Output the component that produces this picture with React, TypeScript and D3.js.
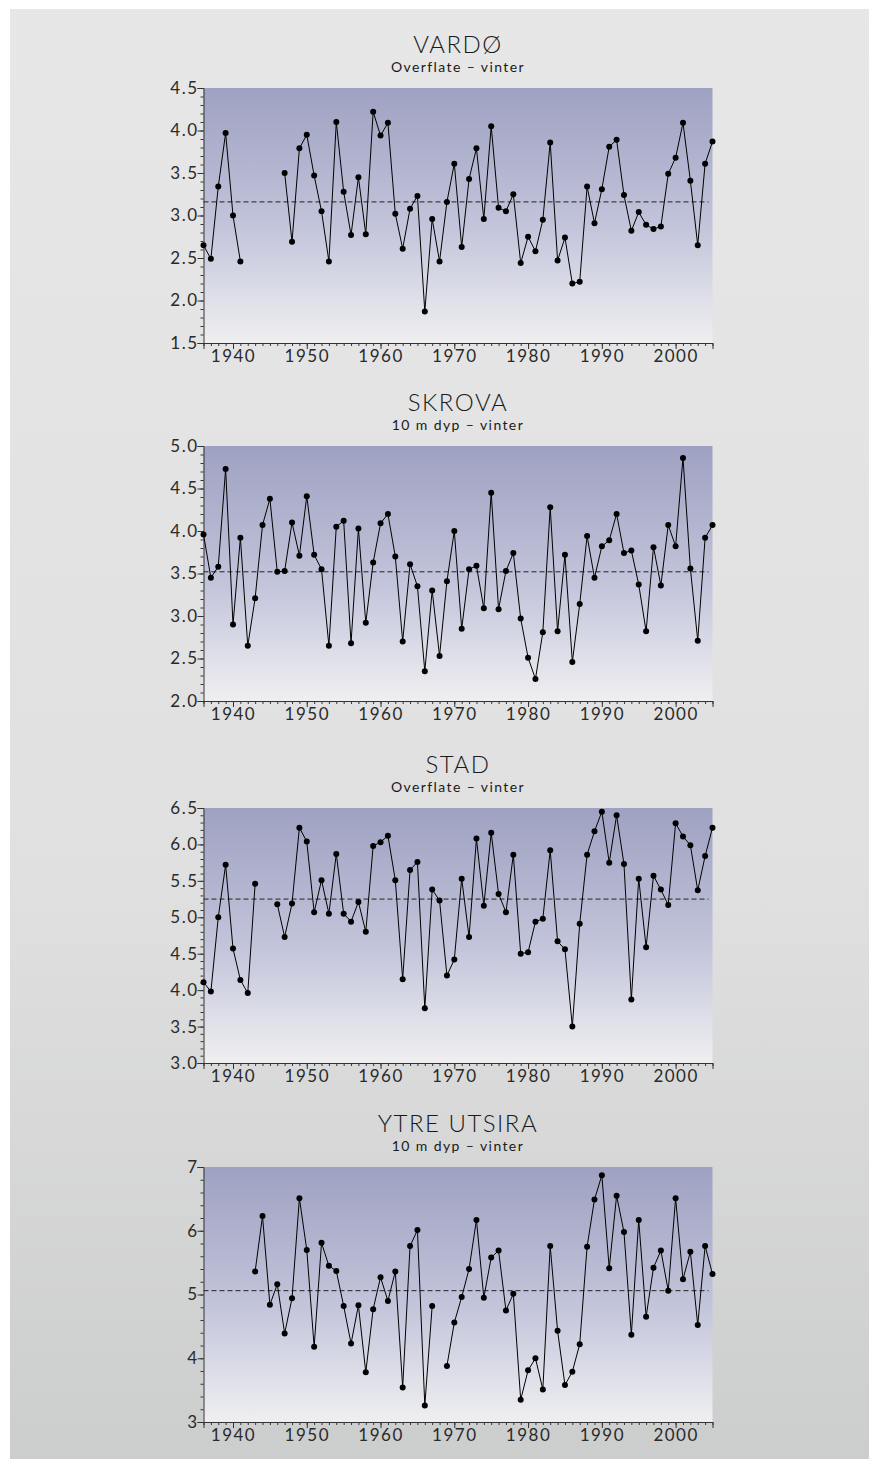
import React, { useEffect, useRef } from 'react';
import * as d3 from 'd3';

// Winter temperature series, 1936-2005 (null = no data)
const years = d3.range(1936, 2006);

const vardo = [
  2.65, 2.49, 3.34, 3.97, 3.00, 2.46, null, null, null, null,
  null, 3.50, 2.69, 3.79, 3.95, 3.47, 3.05, 2.46, 4.10, 3.28,
  2.77, 3.45, 2.78, 4.22, 3.94, 4.09, 3.02, 2.61, 3.08, 3.23,
  1.87, 2.96, 2.46, 3.16, 3.61, 2.63, 3.43, 3.79, 2.96, 4.05,
  3.09, 3.05, 3.25, 2.44, 2.75, 2.58, 2.95, 3.86, 2.47, 2.74,
  2.20, 2.22, 3.34, 2.91, 3.31, 3.81, 3.89, 3.24, 2.82, 3.04,
  2.89, 2.84, 2.87, 3.49, 3.68, 4.09, 3.41, 2.65, 3.61, 3.87,
];

const skrova = [
  3.96, 3.45, 3.58, 4.73, 2.90, 3.92, 2.65, 3.21, 4.07, 4.38,
  3.52, 3.53, 4.10, 3.71, 4.41, 3.72, 3.55, 2.65, 4.05, 4.12,
  2.68, 4.03, 2.92, 3.63, 4.09, 4.20, 3.70, 2.70, 3.61, 3.35,
  2.35, 3.30, 2.53, 3.41, 4.00, 2.85, 3.55, 3.59, 3.09, 4.45,
  3.08, 3.53, 3.74, 2.97, 2.51, 2.26, 2.81, 4.28, 2.82, 3.72,
  2.46, 3.14, 3.94, 3.45, 3.82, 3.89, 4.20, 3.74, 3.77, 3.37,
  2.82, 3.81, 3.36, 4.07, 3.82, 4.86, 3.56, 2.71, 3.92, 4.07,
];

const stad = [
  4.11, 3.98, 5.00, 5.72, 4.57, 4.14, 3.96, 5.46, null, null,
  5.18, 4.73, 5.19, 6.23, 6.04, 5.07, 5.51, 5.05, 5.87, 5.05,
  4.94, 5.21, 4.80, 5.98, 6.03, 6.12, 5.51, 4.15, 5.65, 5.76,
  3.75, 5.38, 5.23, 4.20, 4.42, 5.53, 4.73, 6.08, 5.16, 6.16,
  5.32, 5.07, 5.86, 4.50, 4.52, 4.94, 4.98, 5.92, 4.67, 4.56,
  3.50, 4.91, 5.86, 6.18, 6.45, 5.75, 6.40, 5.73, 3.87, 5.53,
  4.59, 5.57, 5.38, 5.17, 6.29, 6.11, 5.99, 5.37, 5.84, 6.23,
];

const utsira = [
  null, null, null, null, null, null, null, 5.36, 6.23, 4.84,
  5.16, 4.39, 4.94, 6.51, 5.70, 4.18, 5.81, 5.45, 5.37, 4.82,
  4.23, 4.83, 3.78, 4.77, 5.27, 4.90, 5.36, 3.54, 5.76, 6.01,
  3.26, 4.82, null, 3.88, 4.56, 4.96, 5.40, 6.17, 4.95, 5.58,
  5.69, 4.75, 5.01, 3.35, 3.81, 4.00, 3.51, 5.76, 4.43, 3.58,
  3.79, 4.22, 5.75, 6.49, 6.87, 5.41, 6.55, 5.98, 4.37, 6.17,
  4.65, 5.42, 5.69, 5.06, 6.51, 5.24, 5.67, 4.52, 5.76, 5.32,
];

const titles = ['VARDØ', 'SKROVA', 'STAD', 'YTRE UTSIRA'];
const subtitles = ['Overflate – vinter', '10 m dyp – vinter', 'Overflate – vinter', '10 m dyp – vinter'];
const series = [vardo, skrova, stad, utsira];
const means = [3.16, 3.52, 5.25, 5.06];
const yDomains = [[1.5, 4.5], [2.0, 5.0], [3.0, 6.5], [3, 7]];
const yMajorSteps = [0.5, 0.5, 0.5, 1];
const yMinorSteps = [0.1, 0.1, 0.1, 0.2];
const yFormats = ['.1f', '.1f', '.1f', 'd'];
const xTickYears = [1940, 1950, 1960, 1970, 1980, 1990, 2000];

const W = 869;
const H = 1466;

const App = () => {
  const svgRef = useRef(null);

  useEffect(() => {
    document.body.style.margin = '0';
    const svg = d3.select(svgRef.current);
    svg.selectAll('*').remove();

    const defs = svg.append('defs');
    const bgGrad = defs.append('linearGradient')
      .attr('id', 'bg').attr('x1', 0).attr('y1', 0).attr('x2', 0).attr('y2', 1);
    bgGrad.append('stop').attr('offset', '0%').attr('stop-color', '#e7e7e7');
    bgGrad.append('stop').attr('offset', '60%').attr('stop-color', '#e0e0e0');
    bgGrad.append('stop').attr('offset', '100%').attr('stop-color', '#cccdcd');

    const plotGrad = defs.append('linearGradient')
      .attr('id', 'plotbg').attr('x1', 0).attr('y1', 0).attr('x2', 0).attr('y2', 1);
    plotGrad.append('stop').attr('offset', '0%').attr('stop-color', '#9ea1c1');
    plotGrad.append('stop').attr('offset', '55%').attr('stop-color', '#c3c5db');
    plotGrad.append('stop').attr('offset', '100%').attr('stop-color', '#efeff1');

    svg.append('rect')
      .attr('x', 10).attr('y', 9)
      .attr('width', W - 10).attr('height', 1450)
      .attr('fill', 'url(#bg)');

    const left = 203.5;
    const right = 712.5;
    const plotH = 255;
    const tops = [88, 446, 808, 1167];

    const x = d3.scaleLinear().domain([1936, 2005]).range([left, right]);
    const font = 'Lato, "Open Sans", sans-serif';
    const axisColor = '#333';

    series.forEach((vals, i) => {
      const top = tops[i];
      const bottom = top + plotH;
      const y = d3.scaleLinear().domain(yDomains[i]).range([bottom, top]);
      const g = svg.append('g');

      // titles
      g.append('text')
        .attr('x', (left + right) / 2).attr('y', top - 35)
        .attr('text-anchor', 'middle')
        .attr('font-family', font).attr('font-size', 24).attr('font-weight', 300)
        .attr('letter-spacing', 1.5)
        .attr('fill', '#1a1a1a')
        .text(titles[i]);
      g.append('text')
        .attr('x', (left + right) / 2).attr('y', top - 16)
        .attr('text-anchor', 'middle')
        .attr('font-family', font).attr('font-size', 14).attr('font-weight', 400)
        .attr('letter-spacing', 1.4)
        .attr('fill', '#1a1a1a')
        .text(subtitles[i]);

      // plot background
      g.append('rect')
        .attr('x', left).attr('y', top)
        .attr('width', right - left).attr('height', plotH)
        .attr('fill', 'url(#plotbg)');

      // mean line
      g.append('line')
        .attr('x1', left).attr('x2', right - 4)
        .attr('y1', y(means[i])).attr('y2', y(means[i]))
        .attr('stroke', '#222').attr('stroke-width', 1)
        .attr('stroke-dasharray', '5,3');

      // y axis
      const [y0, y1] = yDomains[i];
      const minor = d3.range(y0, y1 + 1e-6, yMinorSteps[i]);
      const major = d3.range(y0, y1 + 1e-6, yMajorSteps[i]);
      const yAxisMinor = d3.axisLeft(y).tickValues(minor).tickSize(3).tickFormat(() => '');
      const yAxisMajor = d3.axisLeft(y).tickValues(major).tickSize(6)
        .tickFormat(d3.format(yFormats[i]));
      const gyMinor = g.append('g').attr('transform', `translate(${left},0)`).call(yAxisMinor);
      const gy = g.append('g').attr('transform', `translate(${left},0)`).call(yAxisMajor);
      [gyMinor, gy].forEach(a => {
        a.select('.domain').attr('stroke', axisColor);
        a.selectAll('line').attr('stroke', axisColor);
      });
      gyMinor.select('.domain').remove();
      gy.selectAll('text')
        .attr('font-family', font).attr('font-size', 17).attr('font-weight', 400)
        .attr('letter-spacing', 1.5).attr('fill', '#2a2a2a')
        .attr('x', -5);

      // x axis
      const xAxisMinor = d3.axisBottom(x).tickValues(years).tickSize(3).tickFormat(() => '');
      const xAxisMajor = d3.axisBottom(x).tickValues(xTickYears).tickSize(6).tickFormat(d3.format('d'));
      const gxMinor = g.append('g').attr('transform', `translate(0,${bottom})`).call(xAxisMinor);
      const gx = g.append('g').attr('transform', `translate(0,${bottom})`).call(xAxisMajor);
      [gxMinor, gx].forEach(a => {
        a.select('.domain').attr('stroke', axisColor);
        a.selectAll('line').attr('stroke', axisColor);
      });
      gxMinor.select('.domain').remove();
      gx.selectAll('text')
        .attr('font-family', font).attr('font-size', 17).attr('font-weight', 400)
        .attr('letter-spacing', 1.5).attr('fill', '#2a2a2a')
        .attr('y', 7);

      // series line with gaps
      const pts = years.map((yr, k) => ({ year: yr, v: vals[k] }));
      const line = d3.line()
        .defined(d => d.v !== null)
        .x(d => x(d.year))
        .y(d => y(d.v));
      g.append('path')
        .datum(pts)
        .attr('fill', 'none')
        .attr('stroke', '#000')
        .attr('stroke-width', 1)
        .attr('d', line);

      g.selectAll('circle.pt')
        .data(pts.filter(d => d.v !== null))
        .join('circle')
        .attr('class', 'pt')
        .attr('cx', d => x(d.year))
        .attr('cy', d => y(d.v))
        .attr('r', 3)
        .attr('fill', '#000');
    });
  }, []);

  return (
    <svg ref={svgRef} width={W} height={H} style={{ display: 'block', background: '#fff' }} />
  );
};

export default App;
